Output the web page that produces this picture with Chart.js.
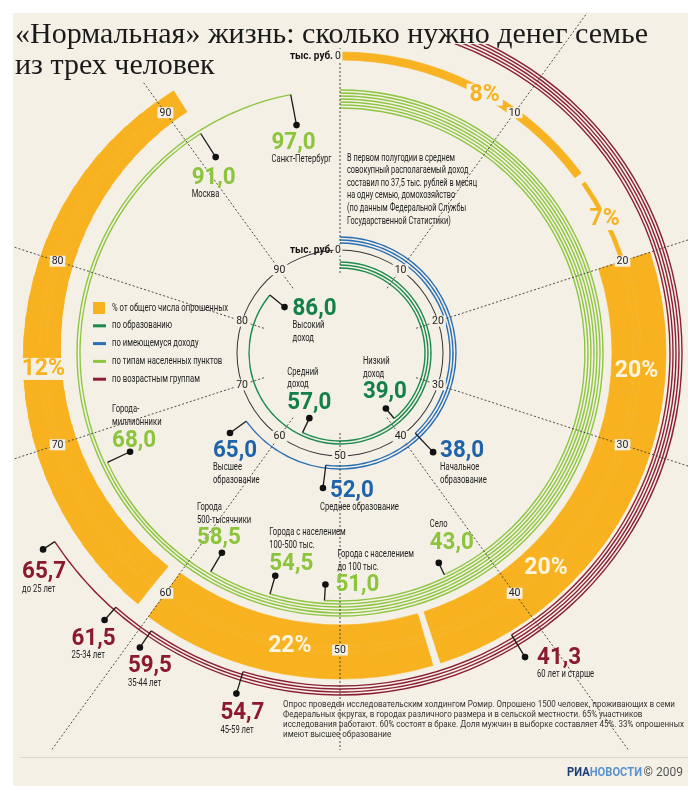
<!DOCTYPE html>
<html>
<head>
<meta charset="utf-8">
<script src="https://cdn.jsdelivr.net/npm/chart.js@4/dist/chart.umd.min.js"></script>
<style>
  html, body { margin: 0; padding: 0; background: #fff; }
  canvas { display: block; }
</style>
</head>
<body>
<canvas id="chart" width="700" height="806"></canvas>
<script>
// --- data (тыс. руб. в месяц) ---
const townNames = [["Санкт-Петербург"], ["Москва"], ["Города-", "миллионники"], ["Города", "500-тысячники"],
  ["Города с населением", "100-500 тыс."], ["Города с населением", "до 100 тыс."], ["Село"]];
const townValues = [97.0, 91.0, 68.0, 58.5, 54.5, 51.0, 43.0];

const ageNames = ["до 25 лет", "25-34 лет", "35-44 лет", "45-59 лет", "60 лет и старше"];
const ageValues = [65.7, 61.5, 59.5, 54.7, 41.3];

const eduNames = [["Высшее", "образование"], ["Среднее образование"], ["Начальное", "образование"]];
const eduValues = [65.0, 52.0, 38.0];

const incomeNames = [["Высокий", "доход"], ["Средний", "доход"], ["Низкий", "доход"]];
const incomeValues = [86.0, 57.0, 39.0];

// % от общего числа опрошенных, placed along the scale
const shareLabels = ["8%", "7%", "20%", "20%", "22%", "12%"];
const shareFrom = [0, 15.3, 20, 30, 45.4, 60.8];
const shareTo = [14.8, 19.7, 30, 45, 60, 91];

const tickLabels = ["0", "10", "20", "30", "40", "50", "60", "70", "80", "90"];

// --- styles / layout ---
const COL = {
  bg: '#f4f0e5', orange: '#f8b220', town: '#8dc641', age: '#8c1f35', edu: '#2a6fb5',
  income: '#1b8a4c', axis: '#333', ink: '#222'
};
const TXT = { town: '#8cc43c', age: '#8b1a2e', edu: '#1f63a8', income: '#138048' };
const NONE = 'rgba(0,0,0,0)';
const OUTER = 343, INNER = 80;
const LINE_W = 1.4, STEP = 3;
const AGE_R = 342, TOWN_R = 263, EDU_R = 116, AXIS_R = 103, INCOME_R = 91;
const OUT_TICK_R = 297, IN_TICK_R = 103;
const SHARE_RADII = [[293, 301], [295, 299], [272, 326], [272, 326], [272, 326], null];
const SHARE_ON_BAND = [false, false, true, true, true, false];
const SHARE_LABEL_SHIFT = [0.7, 0, 0.9, 0.3, 0, -1.7];

// label placement relative to the leader dot: [dx, dy, captions above/below, caption dx]
const townPlace = [[-25, 17, 'below'], [-24, 20, 'below'], [-18, -12, 'above'], [-25, -15, 'above'],
  [-6, -13, 'above'], [10, 0, 'above', 2], [-9, -21, 'above']];
const agePlace = [[-21, 22, 'below'], [-33, 18, 'below'], [-12, 18, 'below'], [-16, 19, 'below'], [12, 0, 'below']];
const eduPlace = [[-17, 17, 'below'], [7, 2, 'below', -10], [7, -2, 'below']];
const incomePlace = [[8, 1, 'below'], [-22, -16, 'above'], [-23, -17, 'above']];

const note = ['В первом полугодии в среднем', 'совокупный располагаемый доход',
  'составил по 37,5 тыс. рублей в месяц', 'на одну семью, домохозяйство',
  '(по данным Федеральной Службы', 'Государственной Статистики)'];
const footer = ['Опрос проведен исследовательским холдингом Ромир. Опрошено 1500 человек, проживающих в семи',
  'Федеральных округах, в городах различного размера и в сельской местности. 65% участников',
  'исследования работают. 60% состоят в браке. Доля мужчин в выборке составляет 45%. 33% опрошенных',
  'имеют высшее образование'];
const legendItems = [['% от общего числа опрошенных', COL.orange, 'box'], ['по образованию', COL.income, 'line'],
  ['по имеющемуся доходу', COL.edu, 'line'], ['по типам населенных пунктов', COL.town, 'line'],
  ['по возрастным группам', COL.age, 'line']];

// --- rings: every arc is a band (radius range + value range) ---
const bands = [];
const addBand = (r0, r1, from, to, color, tag) =>
  bands.push({ r0: +r0.toFixed(2), r1: +r1.toFixed(2), from, to, color, tag });
const addLine = (r, from, to, color, w, tag) => addBand(r - w / 2, r + w / 2, from, to, color, tag);

ageValues.forEach((v, i) => addLine(AGE_R - i * STEP, 0, v, COL.age, LINE_W, 'age'));
townValues.forEach((v, i) => addLine(TOWN_R - i * STEP, 0, v, COL.town, LINE_W));
eduValues.forEach((v, i) => addLine(EDU_R - i * STEP, 0, v, COL.edu, LINE_W));
addLine(AXIS_R, 0, 100, COL.axis, 1);
incomeValues.forEach((v, i) => addLine(INCOME_R - i * STEP, 0, v, COL.income, LINE_W));

shareFrom.forEach((f, i) => {
  const t = shareTo[i];
  if (SHARE_RADII[i]) { addBand(SHARE_RADII[i][0], SHARE_RADII[i][1], f, t, COL.orange, 'share'); return; }
  // the last band narrows towards its end
  const n = 30;
  for (let k = 0; k < n; k++) {
    const hw = 24 - k * (11.5 / (n - 1));
    addBand(298 - hw, 298 + hw, f + (t - f) * k / n, f + (t - f) * (k + 1) / n, COL.orange, 'share');
  }
});

// split into concentric doughnut datasets (outermost first)
const edges = [...new Set(bands.flatMap(b => [b.r0, b.r1]).concat([INNER, OUTER]))].sort((a, b) => b - a);
const datasets = [];
for (let k = 0; k < edges.length - 1; k++) {
  const hi = edges[k], lo = edges[k + 1];
  const inRing = bands.filter(b => b.r0 <= lo && b.r1 >= hi).sort((a, b) => a.from - b.from);
  const data = [], colors = [];
  let pos = 0;
  inRing.forEach(b => {
    if (b.from > pos + 1e-9) { data.push(b.from - pos); colors.push(NONE); }
    data.push(b.to - b.from); colors.push(b.color); pos = b.to;
  });
  if (pos < 100) { data.push(100 - pos); colors.push(NONE); }
  const share = inRing.some(b => b.tag === 'share');
  datasets.push({
    data, backgroundColor: colors, borderColor: colors, borderWidth: share ? 0.6 : 0,
    weight: hi - lo, clipTop: inRing.some(b => b.tag === 'age')
  });
}

// --- drawing helpers ---
const fmt = v => v.toFixed(1).replace('.', ',');
function measure(ctx, s, font) { ctx.font = font; return ctx.measureText(s).width; }
function say(ctx, s, x, y, font, color, align, squeeze) {
  ctx.font = font; ctx.fillStyle = color; ctx.textAlign = align || 'left'; ctx.textBaseline = 'middle';
  const w = ctx.measureText(s).width;
  ctx.fillText(s, x, y, w * (squeeze || 1));
}
function tag(ctx, s, x, y, font, color, bg, pad, h) {
  ctx.font = font;
  const w = ctx.measureText(s).width;
  ctx.fillStyle = bg; ctx.fillRect(x - w / 2 - pad, y - h / 2, w + 2 * pad, h);
  ctx.fillStyle = color; ctx.textAlign = 'center'; ctx.textBaseline = 'middle';
  ctx.fillText(s, x, y + 0.5);
}

const TOP_CLIP = 44;
const clipPlugin = {
  id: 'clipTop',
  beforeDatasetDraw(chart, args) {
    if (!chart.data.datasets[args.index].clipTop) return;
    const c = chart.ctx;
    c.save(); c.beginPath(); c.rect(0, TOP_CLIP, chart.width, chart.height); c.clip();
  },
  afterDatasetDraw(chart, args) {
    if (chart.data.datasets[args.index].clipTop) chart.ctx.restore();
  }
};

const panelPlugin = {
  id: 'panel',
  beforeDraw(chart) {
    const c = chart.ctx;
    c.save();
    c.fillStyle = '#fff'; c.fillRect(0, 0, chart.width, chart.height);
    c.fillStyle = COL.bg; c.fillRect(13, 13, 675, 773);
    c.restore();
  }
};

const decorPlugin = {
  id: 'decor',
  afterDraw(chart) {
    const c = chart.ctx;
    const arc = chart.getDatasetMeta(0).data[0];
    const cx = arc.x, cy = arc.y;
    const pt = (v, r) => {
      const a = v / 100 * 2 * Math.PI - Math.PI / 2;
      return [cx + r * Math.cos(a), cy + r * Math.sin(a)];
    };
    c.save();

    // dashed scale lines
    c.save();
    c.beginPath();
    c.rect(13, 13, 675, 737);
    c.rect(13, 13, 527, 35);
    c.rect(13, 48, 217, 34);
    c.clip('evenodd');
    c.strokeStyle = '#3a3a3a'; c.lineWidth = 0.9; c.setLineDash([2, 2]);
    tickLabels.forEach(t => {
      const [x0, y0] = pt(+t, INNER), [x1, y1] = pt(+t, 560);
      c.beginPath(); c.moveTo(x0, y0); c.lineTo(x1, y1); c.stroke();
    });
    c.restore();
    c.setLineDash([]);

    // scale labels
    const TICK_FONT = '10.5px Roboto', UNIT_FONT = 'bold 10px Roboto';
    [OUT_TICK_R, IN_TICK_R].forEach(r => {
      tickLabels.forEach(t => {
        let [x, y] = pt(+t, r);
        if (+t === 0) {
          x -= 2;
          tag(c, t, x, y, TICK_FONT, COL.ink, COL.bg, 1.5, 11);
          say(c, 'тыс. руб.', x - 5, y, UNIT_FONT, '#111', 'right', 43 / measure(c, 'тыс. руб.', UNIT_FONT));
        } else {
          tag(c, t, x, y, TICK_FONT, COL.ink, COL.bg, 2, 11);
        }
      });
    });

    // share labels
    const SHARE_FONT = 'bold 23px Roboto';
    shareLabels.forEach((s, i) => {
      const [x, y] = pt((shareFrom[i] + shareTo[i]) / 2 + SHARE_LABEL_SHIFT[i], OUT_TICK_R);
      if (SHARE_ON_BAND[i]) say(c, s, x, y + 1, SHARE_FONT, '#fff6df', 'center');
      else tag(c, s, x, y + 1, SHARE_FONT, COL.orange, COL.bg, 3, 22);
    });

    // value labels with leaders
    const NUM_FONT = 'bold 23px Roboto', CAP_FONT = '10.5px Roboto';
    const numSq = Math.min(1, 44 / measure(c, '86,0', NUM_FONT));
    const capSq = 60 / measure(c, 'Санкт-Петербург', CAP_FONT);
    function group(values, names, ringR, dotR, place, color) {
      values.forEach((v, i) => {
        const [ax, ay] = pt(v, ringR - i * STEP);
        const [dx, dy] = pt(v, dotR);
        c.strokeStyle = '#1a1a1a'; c.lineWidth = 1.3;
        c.beginPath(); c.moveTo(ax, ay); c.lineTo(dx, dy); c.stroke();
        c.fillStyle = '#111'; c.beginPath(); c.arc(dx, dy, 3.3, 0, 2 * Math.PI); c.fill();
        const p = place[i];
        const nx = dx + p[0], ny = dy + p[1];
        say(c, fmt(v), nx, ny + 1, NUM_FONT, color, 'left', numSq);
        const lines = Array.isArray(names[i]) ? names[i] : [names[i]];
        lines.forEach((s, j) => {
          const y = p[2] === 'above' ? ny - 17.5 - (lines.length - 1 - j) * 12.5 : ny + 17.5 + j * 12.5;
          say(c, s, nx + (p[3] || 0), y, CAP_FONT, COL.ink, 'left', capSq);
        });
      });
    }
    group(townValues, townNames, TOWN_R, 232, townPlace, TXT.town);
    group(ageValues, ageNames, AGE_R, 356, agePlace, TXT.age);
    group(eduValues, eduNames, EDU_R, 136, eduPlace, TXT.edu);
    group(incomeValues, incomeNames, INCOME_R, 72, incomePlace, TXT.income);

    // legend
    const LEG_FONT = '10.5px Roboto';
    const legSq = 116 / measure(c, legendItems[0][0], LEG_FONT);
    legendItems.forEach(([s, col, kind], i) => {
      const y = 308 + i * 17.8;
      c.fillStyle = col;
      if (kind === 'box') c.fillRect(93, y - 6, 12, 12);
      else c.fillRect(93, y - 1.5, 13, 3);
      say(c, s, 112, y, LEG_FONT, COL.ink, 'left', legSq);
    });

    // note at top right
    const NOTE_FONT = '10.5px Roboto';
    const noteSq = 130 / measure(c, note[2], NOTE_FONT);
    note.forEach((s, i) => say(c, s, 347, 158 + i * 12.6, NOTE_FONT, COL.ink, 'left', noteSq));

    // title
    c.font = '30px "Liberation Serif"'; c.fillStyle = '#1a1a1a';
    c.textAlign = 'left'; c.textBaseline = 'alphabetic';
    c.fillText('«Нормальная» жизнь: сколько нужно денег семье', 15, 43, 646);
    c.fillText('из трех человек', 15, 74);

    // footer
    const FOOT_FONT = '9.5px Roboto';
    const footSq = Math.min(1, 392 / measure(c, footer[0], FOOT_FONT));
    footer.forEach((s, i) => say(c, s, 283, 705 + i * 10, FOOT_FONT, '#333', 'left', footSq));
    c.fillStyle = '#dcd8cc'; c.fillRect(20, 757, 668, 1);

    const LOGO_FONT = 'bold 12.5px Roboto';
    const wRia = measure(c, 'РИА', LOGO_FONT), wNov = measure(c, 'НОВОСТИ', LOGO_FONT);
    const lSq = 75 / (wRia + wNov);
    say(c, 'РИА', 567, 773, LOGO_FONT, '#1c3f7a', 'left', lSq);
    say(c, 'НОВОСТИ', 567 + wRia * lSq, 773, LOGO_FONT, '#5a93cf', 'left', lSq);
    say(c, '© 2009', 683, 773, '12px Roboto', '#555', 'right');

    c.restore();
  }
};

new Chart(document.getElementById('chart'), {
  type: 'doughnut',
  data: { labels: [], datasets },
  options: {
    responsive: false,
    animation: false,
    events: [],
    radius: OUTER,
    cutout: (INNER / OUTER * 100) + '%',
    layout: { padding: { left: 0, right: 20, top: 13, bottom: 113 } },
    plugins: { legend: { display: false }, tooltip: { enabled: false } }
  },
  plugins: [panelPlugin, clipPlugin, decorPlugin]
});
</script>
</body>
</html>
